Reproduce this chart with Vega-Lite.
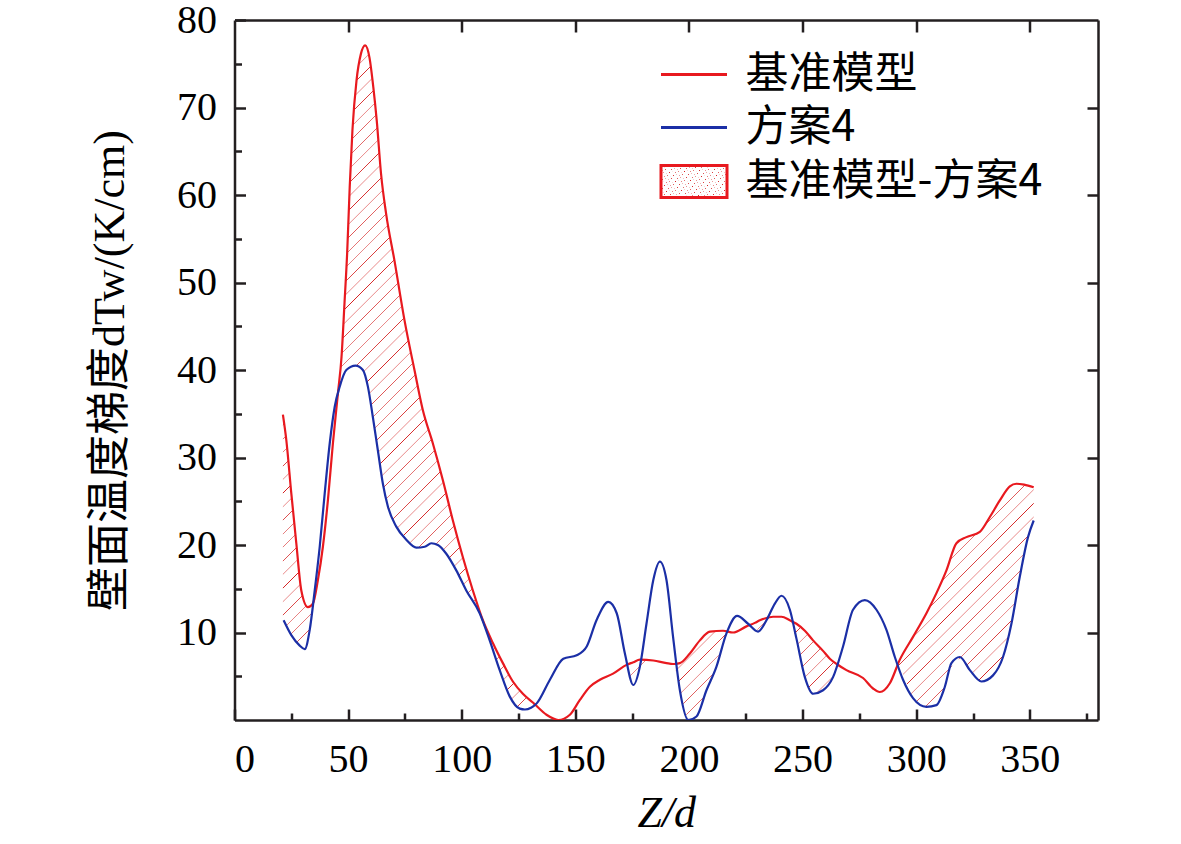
{
  "$schema": "https://vega.github.io/schema/vega-lite/v6.json",
  "description": "壁面温度梯度: 基准模型 vs 方案4",
  "autosize": "none",
  "width": 863.5,
  "height": 700,
  "padding": {"left": 234.5, "top": 20, "right": 83, "bottom": 124},
  "background": "white",
  "datasets": {
    "base": [
      {"z": 21.3, "red": 34.9, "lo": 11.5},
      {"z": 22.8, "red": 32.0, "lo": 10.8},
      {"z": 25.0, "red": 25.9, "lo": 9.7},
      {"z": 27.2, "red": 20.2, "lo": 9.0},
      {"z": 29.4, "red": 14.8, "lo": 8.3},
      {"z": 32.3, "red": 12.9, "lo": 9.3},
      {"z": 34.5, "red": 13.3, "lo": 13.2},
      {"z": 36.7, "red": 16.0, "lo": 16.0},
      {"z": 38.9, "red": 19.8, "lo": 19.8},
      {"z": 41.1, "red": 25.1, "lo": 25.1},
      {"z": 43.3, "red": 31.6, "lo": 31.6},
      {"z": 45.5, "red": 37.3, "lo": 37.3},
      {"z": 47.1, "red": 41.5, "lo": 38.7},
      {"z": 48.4, "red": 47.6, "lo": 39.6},
      {"z": 49.6, "red": 53.5, "lo": 40.1},
      {"z": 50.7, "red": 60.9, "lo": 40.2},
      {"z": 51.9, "red": 67.4, "lo": 40.4},
      {"z": 53.7, "red": 73.1, "lo": 40.5},
      {"z": 55.6, "red": 76.1, "lo": 40.2},
      {"z": 57.5, "red": 77.1, "lo": 39.2},
      {"z": 59.4, "red": 75.7, "lo": 37.2},
      {"z": 61.1, "red": 72.3, "lo": 34.3},
      {"z": 62.6, "red": 68.5, "lo": 31.7},
      {"z": 64.5, "red": 62.4, "lo": 28.0},
      {"z": 66.7, "red": 57.9, "lo": 25.3},
      {"z": 70.4, "red": 52.5, "lo": 22.6},
      {"z": 74.8, "red": 45.7, "lo": 20.8},
      {"z": 79.2, "red": 40.0, "lo": 19.8},
      {"z": 82.9, "red": 35.4, "lo": 19.7},
      {"z": 87.3, "red": 31.6, "lo": 20.2},
      {"z": 91.7, "red": 27.4, "lo": 19.4},
      {"z": 96.1, "red": 22.8, "lo": 17.8},
      {"z": 100.5, "red": 18.6, "lo": 15.5},
      {"z": 104.9, "red": 14.8, "lo": 13.5},
      {"z": 109.3, "red": 11.4, "lo": 11.2},
      {"z": 113.7, "red": 8.8, "lo": 8.0},
      {"z": 118.1, "red": 6.5, "lo": 4.7},
      {"z": 122.5, "red": 4.4, "lo": 2.2},
      {"z": 126.9, "red": 3.0, "lo": 1.2},
      {"z": 131.3, "red": 2.0, "lo": 1.7},
      {"z": 137.3, "red": 0.6, "lo": 0.6},
      {"z": 142.5, "red": 0.0, "lo": 0.0},
      {"z": 147.6, "red": 0.6, "lo": 0.6},
      {"z": 152.0, "red": 2.3, "lo": 2.3},
      {"z": 156.4, "red": 3.8, "lo": 3.8},
      {"z": 160.8, "red": 4.6, "lo": 4.6},
      {"z": 166.6, "red": 5.3, "lo": 5.3},
      {"z": 172.5, "red": 6.3, "lo": 6.3},
      {"z": 175.5, "red": 6.6, "lo": 4.0},
      {"z": 178.4, "red": 6.9, "lo": 6.1},
      {"z": 184.3, "red": 6.8, "lo": 6.8},
      {"z": 190.1, "red": 6.5, "lo": 6.5},
      {"z": 193.0, "red": 6.4, "lo": 6.4},
      {"z": 196.0, "red": 6.5, "lo": 3.4},
      {"z": 200.4, "red": 7.6, "lo": 0.0},
      {"z": 204.8, "red": 9.1, "lo": 1.4},
      {"z": 209.2, "red": 10.1, "lo": 4.3},
      {"z": 215.0, "red": 10.2, "lo": 8.6},
      {"z": 219.4, "red": 10.0, "lo": 10.0},
      {"z": 225.3, "red": 10.7, "lo": 10.7},
      {"z": 229.0, "red": 11.1, "lo": 10.3},
      {"z": 231.2, "red": 11.4, "lo": 10.4},
      {"z": 237.0, "red": 11.8, "lo": 11.8},
      {"z": 240.7, "red": 11.8, "lo": 11.8},
      {"z": 244.4, "red": 11.4, "lo": 11.4},
      {"z": 247.3, "red": 11.0, "lo": 9.1},
      {"z": 251.0, "red": 10.2, "lo": 4.9},
      {"z": 254.6, "red": 9.1, "lo": 3.0},
      {"z": 259.0, "red": 7.9, "lo": 3.4},
      {"z": 262.0, "red": 7.0, "lo": 4.3},
      {"z": 265.0, "red": 6.4, "lo": 6.2},
      {"z": 269.3, "red": 5.7, "lo": 5.7},
      {"z": 276.6, "red": 4.8, "lo": 4.8},
      {"z": 281.0, "red": 3.6, "lo": 3.6},
      {"z": 284.0, "red": 3.2, "lo": 3.2},
      {"z": 288.4, "red": 4.2, "lo": 4.2},
      {"z": 292.8, "red": 6.9, "lo": 5.6},
      {"z": 298.6, "red": 9.5, "lo": 2.5},
      {"z": 304.5, "red": 12.2, "lo": 1.5},
      {"z": 308.9, "red": 14.5, "lo": 1.7},
      {"z": 313.3, "red": 17.1, "lo": 4.3},
      {"z": 317.7, "red": 20.2, "lo": 7.0},
      {"z": 322.1, "red": 20.9, "lo": 6.3},
      {"z": 328.0, "red": 21.5, "lo": 4.5},
      {"z": 332.4, "red": 23.2, "lo": 4.8},
      {"z": 336.8, "red": 25.1, "lo": 6.3},
      {"z": 341.2, "red": 26.7, "lo": 10.2},
      {"z": 344.1, "red": 27.0, "lo": 13.7},
      {"z": 347.5, "red": 26.9, "lo": 18.8},
      {"z": 351.7, "red": 26.6, "lo": 22.8}
    ],
    "case4": [
      {"z": 21.6, "blue": 11.4}, {"z": 25.0, "blue": 9.7}, {"z": 28.7, "blue": 8.5},
      {"z": 30.9, "blue": 8.1}, {"z": 33.1, "blue": 10.3}, {"z": 35.3, "blue": 14.8},
      {"z": 37.5, "blue": 19.8}, {"z": 39.7, "blue": 25.9}, {"z": 41.9, "blue": 31.6},
      {"z": 44.1, "blue": 35.8}, {"z": 46.3, "blue": 38.1}, {"z": 49.2, "blue": 40.0},
      {"z": 53.3, "blue": 40.5}, {"z": 56.5, "blue": 40.0}, {"z": 58.7, "blue": 38.1},
      {"z": 60.9, "blue": 34.6}, {"z": 63.1, "blue": 30.8}, {"z": 65.3, "blue": 27.0},
      {"z": 67.5, "blue": 24.4}, {"z": 71.2, "blue": 22.1}, {"z": 75.6, "blue": 20.6},
      {"z": 80.0, "blue": 19.7}, {"z": 83.7, "blue": 19.8}, {"z": 86.6, "blue": 20.2},
      {"z": 89.5, "blue": 20.0}, {"z": 93.2, "blue": 19.0}, {"z": 97.6, "blue": 17.1},
      {"z": 102.0, "blue": 14.8}, {"z": 107.9, "blue": 12.2}, {"z": 112.3, "blue": 9.1},
      {"z": 116.7, "blue": 5.7}, {"z": 121.1, "blue": 2.7}, {"z": 125.5, "blue": 1.3},
      {"z": 127.8, "blue": 1.2}, {"z": 130.5, "blue": 1.4}, {"z": 133.0, "blue": 1.9},
      {"z": 138.8, "blue": 4.6}, {"z": 144.7, "blue": 7.0}, {"z": 150.6, "blue": 7.4},
      {"z": 155.0, "blue": 8.4}, {"z": 159.3, "blue": 11.4}, {"z": 164.5, "blue": 13.5},
      {"z": 168.2, "blue": 12.2}, {"z": 171.8, "blue": 7.6}, {"z": 175.5, "blue": 4.0},
      {"z": 178.4, "blue": 6.1}, {"z": 181.3, "blue": 11.0}, {"z": 184.3, "blue": 16.0},
      {"z": 187.2, "blue": 18.1}, {"z": 190.1, "blue": 16.0}, {"z": 193.0, "blue": 9.5},
      {"z": 196.0, "blue": 3.4}, {"z": 199.7, "blue": 0.0}, {"z": 203.3, "blue": 0.4},
      {"z": 207.7, "blue": 3.4}, {"z": 212.1, "blue": 6.1}, {"z": 216.5, "blue": 9.9},
      {"z": 221.2, "blue": 11.9}, {"z": 226.0, "blue": 11.0}, {"z": 230.4, "blue": 10.1},
      {"z": 234.1, "blue": 11.4}, {"z": 237.8, "blue": 13.3}, {"z": 240.7, "blue": 14.2},
      {"z": 244.4, "blue": 12.6}, {"z": 247.3, "blue": 9.3}, {"z": 251.0, "blue": 4.9},
      {"z": 254.6, "blue": 3.0}, {"z": 259.0, "blue": 3.4}, {"z": 263.4, "blue": 4.9},
      {"z": 267.8, "blue": 8.4}, {"z": 272.2, "blue": 12.6}, {"z": 277.4, "blue": 13.7},
      {"z": 282.5, "blue": 12.6}, {"z": 286.9, "blue": 10.3}, {"z": 290.6, "blue": 7.2},
      {"z": 294.2, "blue": 4.6}, {"z": 298.6, "blue": 2.5}, {"z": 304.5, "blue": 1.5},
      {"z": 308.9, "blue": 1.7}, {"z": 312.6, "blue": 3.8}, {"z": 315.5, "blue": 6.5},
      {"z": 319.2, "blue": 7.2}, {"z": 323.6, "blue": 5.7}, {"z": 328.7, "blue": 4.4},
      {"z": 333.8, "blue": 5.1}, {"z": 338.2, "blue": 7.2}, {"z": 341.9, "blue": 11.0},
      {"z": 345.6, "blue": 16.4}, {"z": 349.2, "blue": 20.9}, {"z": 351.7, "blue": 22.8}
    ]
  },
  "layer": [
    {
      "data": {"name": "base"},
      "mark": {
        "type": "area",
        "interpolate": "monotone",
        "clip": true,
        "strokeWidth": 0,
        "fill": {
          "gradient": "linear", "x1": 0, "y1": 0, "x2": 1, "y2": 0.9,
          "stops": [
            {"offset": 0, "color": "#ffffff"},
            {"offset": 0.0095, "color": "#ffffff"}, {"offset": 0.01, "color": "#d42020"}, {"offset": 0.0105, "color": "#ffffff"},
            {"offset": 0.0195, "color": "#ffffff"}, {"offset": 0.02, "color": "#d42020"}, {"offset": 0.0205, "color": "#ffffff"},
            {"offset": 0.0295, "color": "#ffffff"}, {"offset": 0.03, "color": "#d42020"}, {"offset": 0.0305, "color": "#ffffff"},
            {"offset": 0.0395, "color": "#ffffff"}, {"offset": 0.04, "color": "#d42020"}, {"offset": 0.0405, "color": "#ffffff"},
            {"offset": 0.0495, "color": "#ffffff"}, {"offset": 0.05, "color": "#d42020"}, {"offset": 0.0505, "color": "#ffffff"},
            {"offset": 0.0595, "color": "#ffffff"}, {"offset": 0.06, "color": "#d42020"}, {"offset": 0.0605, "color": "#ffffff"},
            {"offset": 0.0695, "color": "#ffffff"}, {"offset": 0.07, "color": "#d42020"}, {"offset": 0.0705, "color": "#ffffff"},
            {"offset": 0.0795, "color": "#ffffff"}, {"offset": 0.08, "color": "#d42020"}, {"offset": 0.0805, "color": "#ffffff"},
            {"offset": 0.0895, "color": "#ffffff"}, {"offset": 0.09, "color": "#d42020"}, {"offset": 0.0905, "color": "#ffffff"},
            {"offset": 0.0995, "color": "#ffffff"}, {"offset": 0.10, "color": "#d42020"}, {"offset": 0.1005, "color": "#ffffff"},
            {"offset": 0.1095, "color": "#ffffff"}, {"offset": 0.11, "color": "#d42020"}, {"offset": 0.1105, "color": "#ffffff"},
            {"offset": 0.1195, "color": "#ffffff"}, {"offset": 0.12, "color": "#d42020"}, {"offset": 0.1205, "color": "#ffffff"},
            {"offset": 0.1295, "color": "#ffffff"}, {"offset": 0.13, "color": "#d42020"}, {"offset": 0.1305, "color": "#ffffff"},
            {"offset": 0.1395, "color": "#ffffff"}, {"offset": 0.14, "color": "#d42020"}, {"offset": 0.1405, "color": "#ffffff"},
            {"offset": 0.1495, "color": "#ffffff"}, {"offset": 0.15, "color": "#d42020"}, {"offset": 0.1505, "color": "#ffffff"},
            {"offset": 0.1595, "color": "#ffffff"}, {"offset": 0.16, "color": "#d42020"}, {"offset": 0.1605, "color": "#ffffff"},
            {"offset": 0.1695, "color": "#ffffff"}, {"offset": 0.17, "color": "#d42020"}, {"offset": 0.1705, "color": "#ffffff"},
            {"offset": 0.1795, "color": "#ffffff"}, {"offset": 0.18, "color": "#d42020"}, {"offset": 0.1805, "color": "#ffffff"},
            {"offset": 0.1895, "color": "#ffffff"}, {"offset": 0.19, "color": "#d42020"}, {"offset": 0.1905, "color": "#ffffff"},
            {"offset": 0.1995, "color": "#ffffff"}, {"offset": 0.20, "color": "#d42020"}, {"offset": 0.2005, "color": "#ffffff"},
            {"offset": 0.2095, "color": "#ffffff"}, {"offset": 0.21, "color": "#d42020"}, {"offset": 0.2105, "color": "#ffffff"},
            {"offset": 0.2195, "color": "#ffffff"}, {"offset": 0.22, "color": "#d42020"}, {"offset": 0.2205, "color": "#ffffff"},
            {"offset": 0.2295, "color": "#ffffff"}, {"offset": 0.23, "color": "#d42020"}, {"offset": 0.2305, "color": "#ffffff"},
            {"offset": 0.2395, "color": "#ffffff"}, {"offset": 0.24, "color": "#d42020"}, {"offset": 0.2405, "color": "#ffffff"},
            {"offset": 0.2495, "color": "#ffffff"}, {"offset": 0.25, "color": "#d42020"}, {"offset": 0.2505, "color": "#ffffff"},
            {"offset": 0.2595, "color": "#ffffff"}, {"offset": 0.26, "color": "#d42020"}, {"offset": 0.2605, "color": "#ffffff"},
            {"offset": 0.2695, "color": "#ffffff"}, {"offset": 0.27, "color": "#d42020"}, {"offset": 0.2705, "color": "#ffffff"},
            {"offset": 0.2795, "color": "#ffffff"}, {"offset": 0.28, "color": "#d42020"}, {"offset": 0.2805, "color": "#ffffff"},
            {"offset": 0.2895, "color": "#ffffff"}, {"offset": 0.29, "color": "#d42020"}, {"offset": 0.2905, "color": "#ffffff"},
            {"offset": 0.2995, "color": "#ffffff"}, {"offset": 0.30, "color": "#d42020"}, {"offset": 0.3005, "color": "#ffffff"},
            {"offset": 0.3095, "color": "#ffffff"}, {"offset": 0.31, "color": "#d42020"}, {"offset": 0.3105, "color": "#ffffff"},
            {"offset": 0.3195, "color": "#ffffff"}, {"offset": 0.32, "color": "#d42020"}, {"offset": 0.3205, "color": "#ffffff"},
            {"offset": 0.3295, "color": "#ffffff"}, {"offset": 0.33, "color": "#d42020"}, {"offset": 0.3305, "color": "#ffffff"},
            {"offset": 0.3395, "color": "#ffffff"}, {"offset": 0.34, "color": "#d42020"}, {"offset": 0.3405, "color": "#ffffff"},
            {"offset": 0.3495, "color": "#ffffff"}, {"offset": 0.35, "color": "#d42020"}, {"offset": 0.3505, "color": "#ffffff"},
            {"offset": 0.3595, "color": "#ffffff"}, {"offset": 0.36, "color": "#d42020"}, {"offset": 0.3605, "color": "#ffffff"},
            {"offset": 0.3695, "color": "#ffffff"}, {"offset": 0.37, "color": "#d42020"}, {"offset": 0.3705, "color": "#ffffff"},
            {"offset": 0.3795, "color": "#ffffff"}, {"offset": 0.38, "color": "#d42020"}, {"offset": 0.3805, "color": "#ffffff"},
            {"offset": 0.3895, "color": "#ffffff"}, {"offset": 0.39, "color": "#d42020"}, {"offset": 0.3905, "color": "#ffffff"},
            {"offset": 0.3995, "color": "#ffffff"}, {"offset": 0.40, "color": "#d42020"}, {"offset": 0.4005, "color": "#ffffff"},
            {"offset": 0.4095, "color": "#ffffff"}, {"offset": 0.41, "color": "#d42020"}, {"offset": 0.4105, "color": "#ffffff"},
            {"offset": 0.4195, "color": "#ffffff"}, {"offset": 0.42, "color": "#d42020"}, {"offset": 0.4205, "color": "#ffffff"},
            {"offset": 0.4295, "color": "#ffffff"}, {"offset": 0.43, "color": "#d42020"}, {"offset": 0.4305, "color": "#ffffff"},
            {"offset": 0.4395, "color": "#ffffff"}, {"offset": 0.44, "color": "#d42020"}, {"offset": 0.4405, "color": "#ffffff"},
            {"offset": 0.4495, "color": "#ffffff"}, {"offset": 0.45, "color": "#d42020"}, {"offset": 0.4505, "color": "#ffffff"},
            {"offset": 0.4595, "color": "#ffffff"}, {"offset": 0.46, "color": "#d42020"}, {"offset": 0.4605, "color": "#ffffff"},
            {"offset": 0.4695, "color": "#ffffff"}, {"offset": 0.47, "color": "#d42020"}, {"offset": 0.4705, "color": "#ffffff"},
            {"offset": 0.4795, "color": "#ffffff"}, {"offset": 0.48, "color": "#d42020"}, {"offset": 0.4805, "color": "#ffffff"},
            {"offset": 0.4895, "color": "#ffffff"}, {"offset": 0.49, "color": "#d42020"}, {"offset": 0.4905, "color": "#ffffff"},
            {"offset": 0.4995, "color": "#ffffff"}, {"offset": 0.50, "color": "#d42020"}, {"offset": 0.5005, "color": "#ffffff"},
            {"offset": 0.5095, "color": "#ffffff"}, {"offset": 0.51, "color": "#d42020"}, {"offset": 0.5105, "color": "#ffffff"},
            {"offset": 0.5195, "color": "#ffffff"}, {"offset": 0.52, "color": "#d42020"}, {"offset": 0.5205, "color": "#ffffff"},
            {"offset": 0.5295, "color": "#ffffff"}, {"offset": 0.53, "color": "#d42020"}, {"offset": 0.5305, "color": "#ffffff"},
            {"offset": 0.5395, "color": "#ffffff"}, {"offset": 0.54, "color": "#d42020"}, {"offset": 0.5405, "color": "#ffffff"},
            {"offset": 0.5495, "color": "#ffffff"}, {"offset": 0.55, "color": "#d42020"}, {"offset": 0.5505, "color": "#ffffff"},
            {"offset": 0.5595, "color": "#ffffff"}, {"offset": 0.56, "color": "#d42020"}, {"offset": 0.5605, "color": "#ffffff"},
            {"offset": 0.5695, "color": "#ffffff"}, {"offset": 0.57, "color": "#d42020"}, {"offset": 0.5705, "color": "#ffffff"},
            {"offset": 0.5795, "color": "#ffffff"}, {"offset": 0.58, "color": "#d42020"}, {"offset": 0.5805, "color": "#ffffff"},
            {"offset": 0.5895, "color": "#ffffff"}, {"offset": 0.59, "color": "#d42020"}, {"offset": 0.5905, "color": "#ffffff"},
            {"offset": 0.5995, "color": "#ffffff"}, {"offset": 0.60, "color": "#d42020"}, {"offset": 0.6005, "color": "#ffffff"},
            {"offset": 0.6095, "color": "#ffffff"}, {"offset": 0.61, "color": "#d42020"}, {"offset": 0.6105, "color": "#ffffff"},
            {"offset": 0.6195, "color": "#ffffff"}, {"offset": 0.62, "color": "#d42020"}, {"offset": 0.6205, "color": "#ffffff"},
            {"offset": 0.6295, "color": "#ffffff"}, {"offset": 0.63, "color": "#d42020"}, {"offset": 0.6305, "color": "#ffffff"},
            {"offset": 0.6395, "color": "#ffffff"}, {"offset": 0.64, "color": "#d42020"}, {"offset": 0.6405, "color": "#ffffff"},
            {"offset": 0.6495, "color": "#ffffff"}, {"offset": 0.65, "color": "#d42020"}, {"offset": 0.6505, "color": "#ffffff"},
            {"offset": 0.6595, "color": "#ffffff"}, {"offset": 0.66, "color": "#d42020"}, {"offset": 0.6605, "color": "#ffffff"},
            {"offset": 0.6695, "color": "#ffffff"}, {"offset": 0.67, "color": "#d42020"}, {"offset": 0.6705, "color": "#ffffff"},
            {"offset": 0.6795, "color": "#ffffff"}, {"offset": 0.68, "color": "#d42020"}, {"offset": 0.6805, "color": "#ffffff"},
            {"offset": 0.6895, "color": "#ffffff"}, {"offset": 0.69, "color": "#d42020"}, {"offset": 0.6905, "color": "#ffffff"},
            {"offset": 0.6995, "color": "#ffffff"}, {"offset": 0.70, "color": "#d42020"}, {"offset": 0.7005, "color": "#ffffff"},
            {"offset": 0.7095, "color": "#ffffff"}, {"offset": 0.71, "color": "#d42020"}, {"offset": 0.7105, "color": "#ffffff"},
            {"offset": 0.7195, "color": "#ffffff"}, {"offset": 0.72, "color": "#d42020"}, {"offset": 0.7205, "color": "#ffffff"},
            {"offset": 0.7295, "color": "#ffffff"}, {"offset": 0.73, "color": "#d42020"}, {"offset": 0.7305, "color": "#ffffff"},
            {"offset": 0.7395, "color": "#ffffff"}, {"offset": 0.74, "color": "#d42020"}, {"offset": 0.7405, "color": "#ffffff"},
            {"offset": 0.7495, "color": "#ffffff"}, {"offset": 0.75, "color": "#d42020"}, {"offset": 0.7505, "color": "#ffffff"},
            {"offset": 0.7595, "color": "#ffffff"}, {"offset": 0.76, "color": "#d42020"}, {"offset": 0.7605, "color": "#ffffff"},
            {"offset": 0.7695, "color": "#ffffff"}, {"offset": 0.77, "color": "#d42020"}, {"offset": 0.7705, "color": "#ffffff"},
            {"offset": 0.7795, "color": "#ffffff"}, {"offset": 0.78, "color": "#d42020"}, {"offset": 0.7805, "color": "#ffffff"},
            {"offset": 0.7895, "color": "#ffffff"}, {"offset": 0.79, "color": "#d42020"}, {"offset": 0.7905, "color": "#ffffff"},
            {"offset": 0.7995, "color": "#ffffff"}, {"offset": 0.80, "color": "#d42020"}, {"offset": 0.8005, "color": "#ffffff"},
            {"offset": 0.8095, "color": "#ffffff"}, {"offset": 0.81, "color": "#d42020"}, {"offset": 0.8105, "color": "#ffffff"},
            {"offset": 0.8195, "color": "#ffffff"}, {"offset": 0.82, "color": "#d42020"}, {"offset": 0.8205, "color": "#ffffff"},
            {"offset": 0.8295, "color": "#ffffff"}, {"offset": 0.83, "color": "#d42020"}, {"offset": 0.8305, "color": "#ffffff"},
            {"offset": 0.8395, "color": "#ffffff"}, {"offset": 0.84, "color": "#d42020"}, {"offset": 0.8405, "color": "#ffffff"},
            {"offset": 0.8495, "color": "#ffffff"}, {"offset": 0.85, "color": "#d42020"}, {"offset": 0.8505, "color": "#ffffff"},
            {"offset": 0.8595, "color": "#ffffff"}, {"offset": 0.86, "color": "#d42020"}, {"offset": 0.8605, "color": "#ffffff"},
            {"offset": 0.8695, "color": "#ffffff"}, {"offset": 0.87, "color": "#d42020"}, {"offset": 0.8705, "color": "#ffffff"},
            {"offset": 0.8795, "color": "#ffffff"}, {"offset": 0.88, "color": "#d42020"}, {"offset": 0.8805, "color": "#ffffff"},
            {"offset": 0.8895, "color": "#ffffff"}, {"offset": 0.89, "color": "#d42020"}, {"offset": 0.8905, "color": "#ffffff"},
            {"offset": 0.8995, "color": "#ffffff"}, {"offset": 0.90, "color": "#d42020"}, {"offset": 0.9005, "color": "#ffffff"},
            {"offset": 0.9095, "color": "#ffffff"}, {"offset": 0.91, "color": "#d42020"}, {"offset": 0.9105, "color": "#ffffff"},
            {"offset": 0.9195, "color": "#ffffff"}, {"offset": 0.92, "color": "#d42020"}, {"offset": 0.9205, "color": "#ffffff"},
            {"offset": 0.9295, "color": "#ffffff"}, {"offset": 0.93, "color": "#d42020"}, {"offset": 0.9305, "color": "#ffffff"},
            {"offset": 0.9395, "color": "#ffffff"}, {"offset": 0.94, "color": "#d42020"}, {"offset": 0.9405, "color": "#ffffff"},
            {"offset": 0.9495, "color": "#ffffff"}, {"offset": 0.95, "color": "#d42020"}, {"offset": 0.9505, "color": "#ffffff"},
            {"offset": 0.9595, "color": "#ffffff"}, {"offset": 0.96, "color": "#d42020"}, {"offset": 0.9605, "color": "#ffffff"},
            {"offset": 0.9695, "color": "#ffffff"}, {"offset": 0.97, "color": "#d42020"}, {"offset": 0.9705, "color": "#ffffff"},
            {"offset": 0.9795, "color": "#ffffff"}, {"offset": 0.98, "color": "#d42020"}, {"offset": 0.9805, "color": "#ffffff"},
            {"offset": 0.9895, "color": "#ffffff"}, {"offset": 0.99, "color": "#d42020"}, {"offset": 0.9905, "color": "#ffffff"},
            {"offset": 1, "color": "#ffffff"}
          ]
        }
      },
      "encoding": {
        "x": {
          "field": "z", "type": "quantitative",
          "scale": {"domain": [0, 380], "nice": false, "zero": false},
          "axis": {
            "orient": "bottom", "values": [0, 50, 100, 150, 200, 250, 300, 350],
            "tickSize": -11, "labelPadding": 30,
            "title": "Z/d", "titleFont": "Liberation Serif", "titleFontStyle": "italic",
            "titleFontSize": 44, "titlePadding": 12
          }
        },
        "y": {
          "field": "red", "type": "quantitative",
          "scale": {"domain": [0, 80], "nice": false},
          "axis": {
            "orient": "left", "values": [10, 20, 30, 40, 50, 60, 70, 80],
            "tickSize": -11, "labelPadding": 29,
            "title": "壁面温度梯度dTw/(K/cm)", "titleFont": "Liberation Serif, Noto Sans CJK SC",
            "titleFontSize": 44, "titlePadding": 44
          }
        },
        "y2": {"field": "lo"},
        "stroke": {
          "datum": "基准模型-方案4", "type": "nominal",
          "scale": {"domain": ["基准模型", "方案4", "基准模型-方案4"], "range": ["#e8191f", "#1b2fa6", "#e8191f"]},
          "legend": {
            "title": null, "orient": "none", "legendX": 438, "legendY": 33, "padding": 0,
            "rowPadding": 9, "labelFont": "Noto Sans CJK SC", "labelFontSize": 43, "labelColor": "black",
            "labelLimit": 0, "labelOffset": 30, "symbolSize": 1089,
            "symbolType": {"expr": "datum.value === '基准模型-方案4' ? 'M-2,-0.97H2V0.97H-2Z' : 'M-2,0H2'"},
            "symbolStrokeWidth": 3,
            "encode": {
              "symbols": {
                "strokeWidth": {"value": 3},
                "strokeOpacity": {"value": 1},
                "opacity": {"value": 1},
                "fillOpacity": {"value": 1},
                "fill": {"value": {
                  "gradient": "linear", "x1": 0, "y1": 0, "x2": 1, "y2": 0.485,
                  "stops": [
                    {"offset": 0, "color": "#ffffff"},
                    {"offset": 0.09, "color": "#ffffff"}, {"offset": 0.1, "color": "#d42020"}, {"offset": 0.11, "color": "#ffffff"},
                    {"offset": 0.29, "color": "#ffffff"}, {"offset": 0.3, "color": "#d42020"}, {"offset": 0.31, "color": "#ffffff"},
                    {"offset": 0.49, "color": "#ffffff"}, {"offset": 0.5, "color": "#d42020"}, {"offset": 0.51, "color": "#ffffff"},
                    {"offset": 0.69, "color": "#ffffff"}, {"offset": 0.7, "color": "#d42020"}, {"offset": 0.71, "color": "#ffffff"},
                    {"offset": 0.89, "color": "#ffffff"}, {"offset": 0.9, "color": "#d42020"}, {"offset": 0.91, "color": "#ffffff"},
                    {"offset": 1, "color": "#ffffff"}
                  ]
                }}
              }
            }
          }
        }
      }
    },
    {
      "data": {"name": "base"},
      "mark": {"type": "line", "interpolate": "monotone", "strokeWidth": 2.2, "clip": true},
      "encoding": {
        "x": {
          "field": "z", "type": "quantitative",
          "scale": {"domain": [0, 380], "nice": false, "zero": false},
          "axis": {"orient": "bottom", "values": [25, 75, 125, 175, 225, 275, 325, 375], "tickSize": -7, "labels": false, "domain": false, "title": null}
        },
        "y": {
          "field": "red", "type": "quantitative",
          "scale": {"domain": [0, 80], "nice": false},
          "axis": {"orient": "left", "values": [5, 15, 25, 35, 45, 55, 65, 75], "tickSize": -7, "labels": false, "domain": false, "title": null}
        },
        "stroke": {
          "datum": "基准模型", "type": "nominal",
          "scale": {"domain": ["基准模型", "方案4", "基准模型-方案4"], "range": ["#e8191f", "#1b2fa6", "#e8191f"]}
        }
      }
    },
    {
      "data": {"name": "case4"},
      "mark": {"type": "line", "interpolate": "monotone", "strokeWidth": 2.2, "clip": true},
      "encoding": {
        "x": {
          "field": "z", "type": "quantitative",
          "scale": {"domain": [0, 380], "nice": false, "zero": false},
          "axis": {"orient": "top", "values": [50, 100, 150, 200, 250, 300, 350], "tickSize": -12, "labels": false, "title": null}
        },
        "y": {
          "field": "blue", "type": "quantitative",
          "scale": {"domain": [0, 80], "nice": false},
          "axis": {"orient": "right", "values": [10, 20, 30, 40, 50, 60, 70], "tickSize": -11, "labels": false, "title": null}
        },
        "stroke": {
          "datum": "方案4", "type": "nominal",
          "scale": {"domain": ["基准模型", "方案4", "基准模型-方案4"], "range": ["#e8191f", "#1b2fa6", "#e8191f"]}
        }
      }
    }
  ],
  "resolve": {"axis": {"x": "independent", "y": "independent"}},
  "config": {
    "view": {"stroke": null},
    "axis": {
      "grid": false, "zindex": 1,
      "domainColor": "#231f20", "domainWidth": 2.5,
      "tickColor": "#231f20", "tickWidth": 2.5,
      "labelFont": "Liberation Serif", "labelFontSize": 40, "labelColor": "black",
      "titleColor": "black", "titleFontWeight": "normal"
    }
  }
}
